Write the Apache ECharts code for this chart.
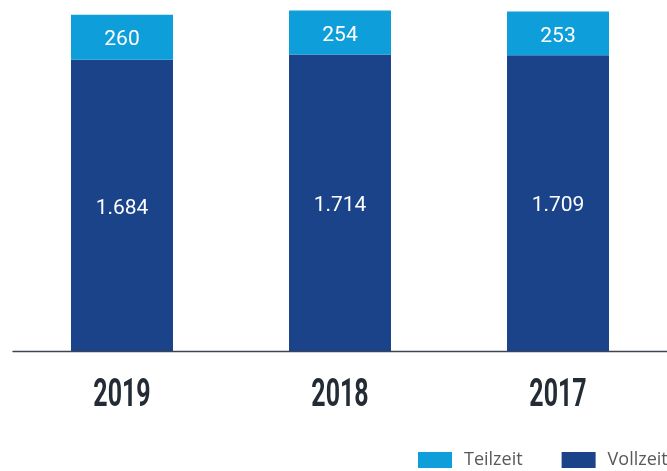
<!DOCTYPE html>
<html>
<head>
<meta charset="utf-8">
<script src="https://cdn.jsdelivr.net/npm/echarts@6/dist/echarts.min.js"></script>
<style>
  html, body { margin: 0; padding: 0; background: #ffffff; }
  #chart { width: 667px; height: 471px; }
</style>
</head>
<body>
<div id="chart"></div>
<script>
// Mitarbeitende nach Beschäftigungsart
const years = ['2019', '2018', '2017'];
const vollzeit = [1684, 1714, 1709];
const teilzeit = [260, 254, 253];

// German thousands separator (1.684)
function fmt(v) {
  return String(v).replace(/\B(?=(\d{3})+(?!\d))/g, '.');
}

const valueLabel = {
  show: true,
  position: 'inside',
  offset: [0, 3],
  color: '#ffffff',
  fontFamily: 'Roboto',
  fontSize: 21,
  formatter: p => fmt(p.value)
};

// Condensed bold year labels under each bar, placed via the category axis
function renderYear(params, api) {
  const idx = api.value(0);
  const pt = api.coord([idx, 0]);
  return {
    type: 'text',
    x: pt[0],
    y: pt[1] + 45,
    scaleX: 0.64,
    silent: true,
    style: {
      text: years[idx],
      fill: '#232c34',
      font: 'bold 39px Roboto, sans-serif',
      align: 'center',
      verticalAlign: 'middle'
    }
  };
}

const chart = echarts.init(document.getElementById('chart'), null, { renderer: 'canvas' });
chart.setOption({
  animation: false,
  backgroundColor: '#ffffff',
  grid: { left: 13, right: 0, top: 5, bottom: 120, containLabel: false },
  xAxis: {
    type: 'category',
    data: years,
    axisLine: { show: true, lineStyle: { color: '#3d4650', width: 1.3 } },
    axisTick: { show: false },
    axisLabel: { show: false }
  },
  yAxis: {
    type: 'value',
    min: 0,
    max: 2000,
    show: false,
    splitLine: { show: false }
  },
  legend: {
    data: ['Teilzeit', 'Vollzeit'],
    left: 418,
    top: 451,
    width: 400,
    padding: 0,
    icon: 'rect',
    itemWidth: 34,
    itemHeight: 16,
    itemGap: 39,
    textStyle: {
      color: '#595959',
      fontFamily: '"Open Sans", sans-serif',
      fontSize: 18,
      padding: [0, 0, 0, 7]
    }
  },
  series: [
    {
      name: 'Vollzeit',
      type: 'bar',
      stack: 'total',
      data: vollzeit,
      barWidth: 102,
      itemStyle: { color: '#1b438a' },
      label: valueLabel
    },
    {
      name: 'Teilzeit',
      type: 'bar',
      stack: 'total',
      data: teilzeit,
      barWidth: 102,
      itemStyle: { color: '#0e9fda' },
      label: valueLabel
    },
    {
      name: 'Jahr',
      type: 'custom',
      data: years.map((y, i) => [i, 0]),
      renderItem: renderYear,
      clip: false,
      silent: true,
      z: 5
    }
  ]
});
</script>
</body>
</html>
